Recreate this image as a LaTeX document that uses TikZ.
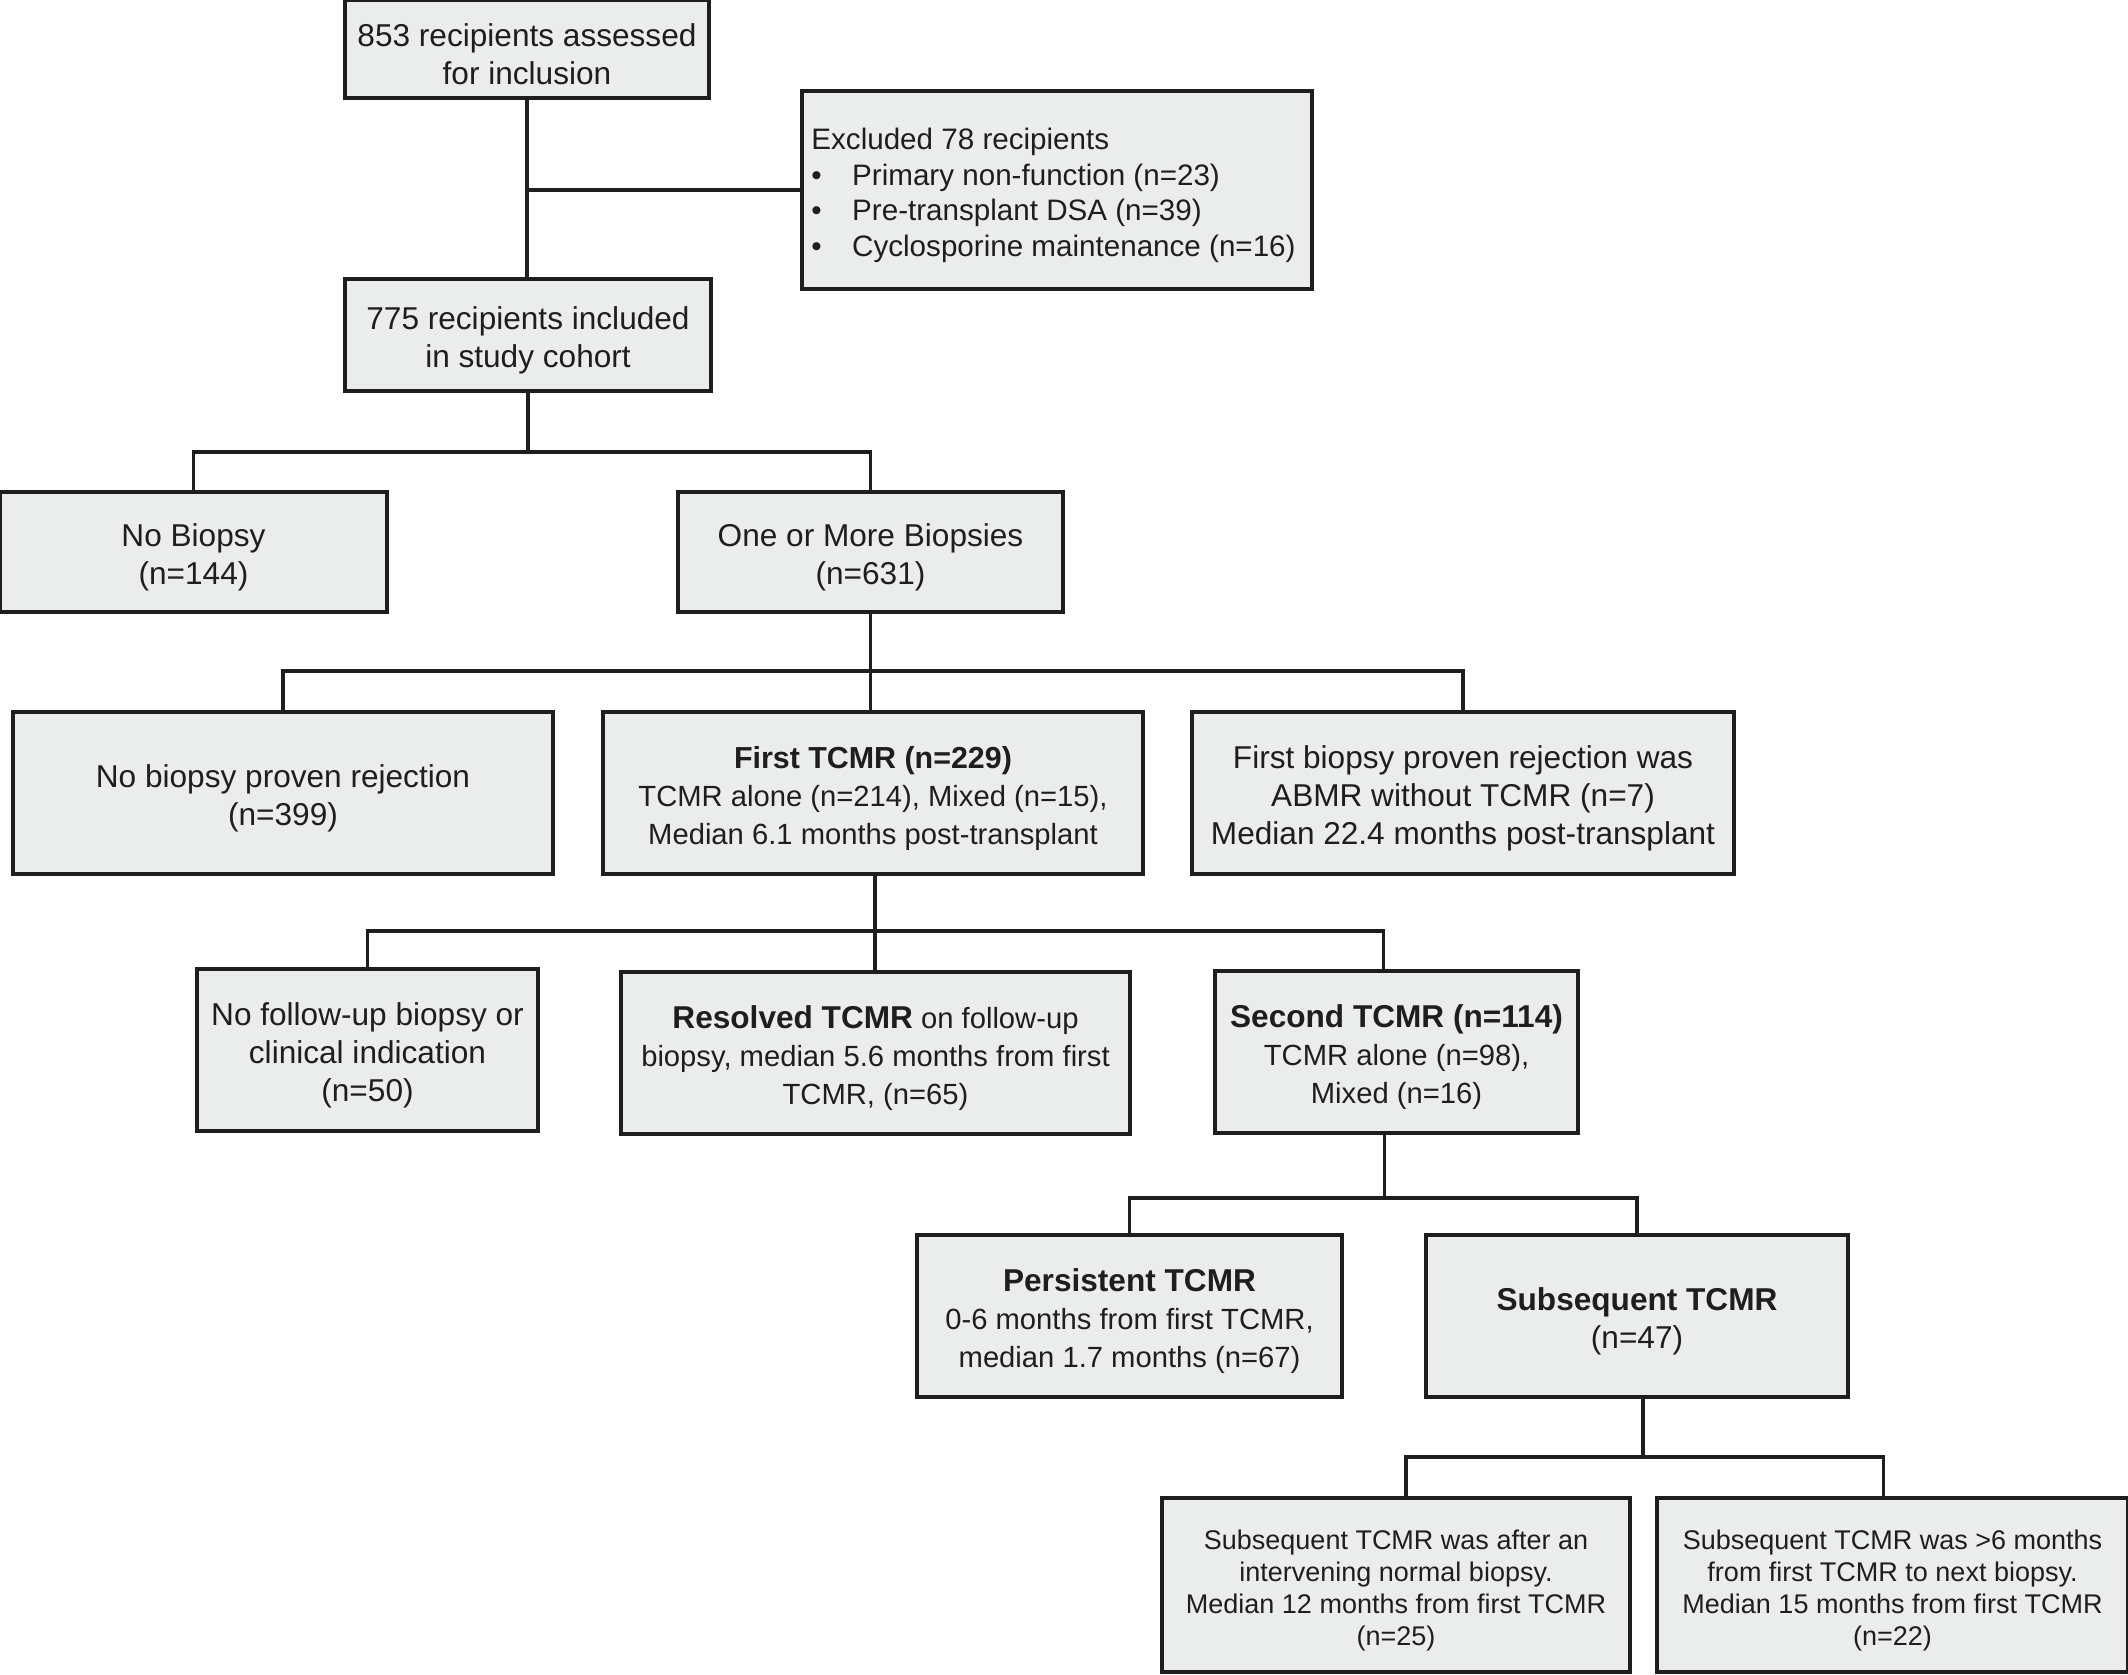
\documentclass[tikz,border=0pt]{standalone}
\usepackage{fontspec}
\setmainfont{Liberation Sans}
\definecolor{boxfill}{RGB}{235,237,236}
\definecolor{ink}{RGB}{30,30,30}
\newcommand{\mkbox}[6]{%
  \node[boxshape,minimum width=#3,minimum height=#4] (#1) at #2 {};
  \node[#5] (#1-t) at ([yshift=-2.7pt]#1.center) {#6};}
\begin{document}
\begin{tikzpicture}[x=0.5pt,y=-0.5pt,
  boxshape/.style={draw=ink,line width=2pt,fill=boxfill,inner sep=0pt},
  txt/.style={inner sep=0pt,align=center,text=ink,font=\fontsize{15.8}{19}\selectfont},
  txtm/.style={txt,font=\fontsize{14.6}{19}\selectfont},
  txts/.style={txt,font=\fontsize{13.5}{16}\selectfont},
  conn/.style={draw=ink,line width=1.6pt}]
\useasboundingbox[fill=white] (0,0) rectangle (2128,1674);
% boxes
\mkbox{n853}{(527,49)}{182pt}{49pt}{txt}{853 recipients assessed\\for inclusion}
\node[boxshape,minimum width=255pt,minimum height=99pt] (excl) at (1057,190) {};
\node[txt,align=left,anchor=west,font=\fontsize{14.8}{17.9}\selectfont] (excl-t)
  at ([xshift=5.5pt,yshift=-2.7pt]excl.west)
  {Excluded 78 recipients\\
   \makebox[20.4pt][l]{•}Primary non-function (n=23)\\
   \makebox[20.4pt][l]{•}Pre-transplant DSA (n=39)\\
   \makebox[20.4pt][l]{•}Cyclosporine maintenance (n=16)};
\mkbox{n775}{(528,335)}{183pt}{56pt}{txt}{775 recipients included\\in study cohort}
\mkbox{nob}{(193.5,552)}{193.5pt}{60pt}{txt}{No Biopsy\\(n=144)}
\mkbox{one}{(870.5,552)}{192.5pt}{60pt}{txt}{One or More Biopsies\\(n=631)}
\mkbox{nbpr}{(283,793)}{270pt}{81pt}{txt}{No biopsy proven rejection\\(n=399)}
\mkbox{first}{(873,793)}{270pt}{81pt}{txtm}{{\fontsize{15.2}{19}\selectfont\bfseries First TCMR (n=229)}\\TCMR alone (n=214), Mixed (n=15),\\Median 6.1 months post-transplant}
\mkbox{abmr}{(1463,793)}{271pt}{81pt}{txt}{First biopsy proven rejection was\\ABMR without TCMR (n=7)\\Median 22.4 months post-transplant}
\mkbox{nofu}{(367.5,1050)}{170.5pt}{81pt}{txt}{No follow-up biopsy or\\clinical indication\\(n=50)}
\mkbox{resol}{(875.5,1053)}{254.5pt}{81pt}{txtm}{{\fontsize{15.8}{19}\selectfont\bfseries Resolved TCMR} on follow-up\\biopsy, median 5.6 months from first\\TCMR, (n=65)}
\mkbox{second}{(1396.5,1052)}{181.5pt}{81pt}{txtm}{{\fontsize{15.8}{19}\selectfont\bfseries Second TCMR (n=114)}\\TCMR alone (n=98),\\Mixed (n=16)}
\mkbox{pers}{(1129.5,1316)}{212.5pt}{81pt}{txtm}{{\fontsize{15.8}{19}\selectfont\bfseries Persistent TCMR}\\0-6 months from first TCMR,\\median 1.7 months (n=67)}
\mkbox{subs}{(1637,1316)}{211pt}{81pt}{txt}{\textbf{Subsequent TCMR}\\(n=47)}
\mkbox{s1}{(1396,1585)}{234pt}{87pt}{txts}{Subsequent TCMR was after an\\intervening normal biopsy.\\Median 12 months from first TCMR\\(n=25)}
\mkbox{s2}{(1892.5,1585)}{235.5pt}{87pt}{txts}{Subsequent TCMR was >6 months\\from first TCMR to next biopsy.\\Median 15 months from first TCMR\\(n=22)}
% junction levels
\coordinate (j0) at (0,190);
\coordinate (j1) at (0,452);
\coordinate (j2) at (0,671);
\coordinate (j3) at (0,931);
\coordinate (j4) at (0,1198);
\coordinate (j5) at (0,1457);
% connectors
\draw[conn] (n853.south) -- (n853.south |- n775.north);
\draw[conn] (n853.south |- j0) -- (excl.west);
\draw[conn] (n775.south) -- (n775.south |- j1);
\draw[conn] (nob.north) -- (nob.north |- j1) -- (one.north |- j1) -- (one.north);
\draw[conn] (one.south) -- (one.south |- first.north);
\draw[conn] (nbpr.north) -- (nbpr.north |- j2) -- (abmr.north |- j2) -- (abmr.north);
\draw[conn] ([xshift=1pt]first.south) -- ([xshift=1pt]first.south |- resol.north);
\draw[conn] (nofu.north) -- (nofu.north |- j3) -- ([xshift=-6.5pt]second.north |- j3) -- ([xshift=-6.5pt]second.north);
\draw[conn] ([xshift=-6pt]second.south) -- ([xshift=-6pt]second.south |- j4);
\draw[conn] (pers.north) -- (pers.north |- j4) -- (subs.north |- j4) -- (subs.north);
\draw[conn] ([xshift=3pt]subs.south) -- ([xshift=3pt]subs.south |- j5);
\draw[conn] ([xshift=5pt]s1.north) -- ([xshift=5pt]s1.north |- j5) -- ([xshift=-4.5pt]s2.north |- j5) -- ([xshift=-4.5pt]s2.north);
\end{tikzpicture}
\end{document}
